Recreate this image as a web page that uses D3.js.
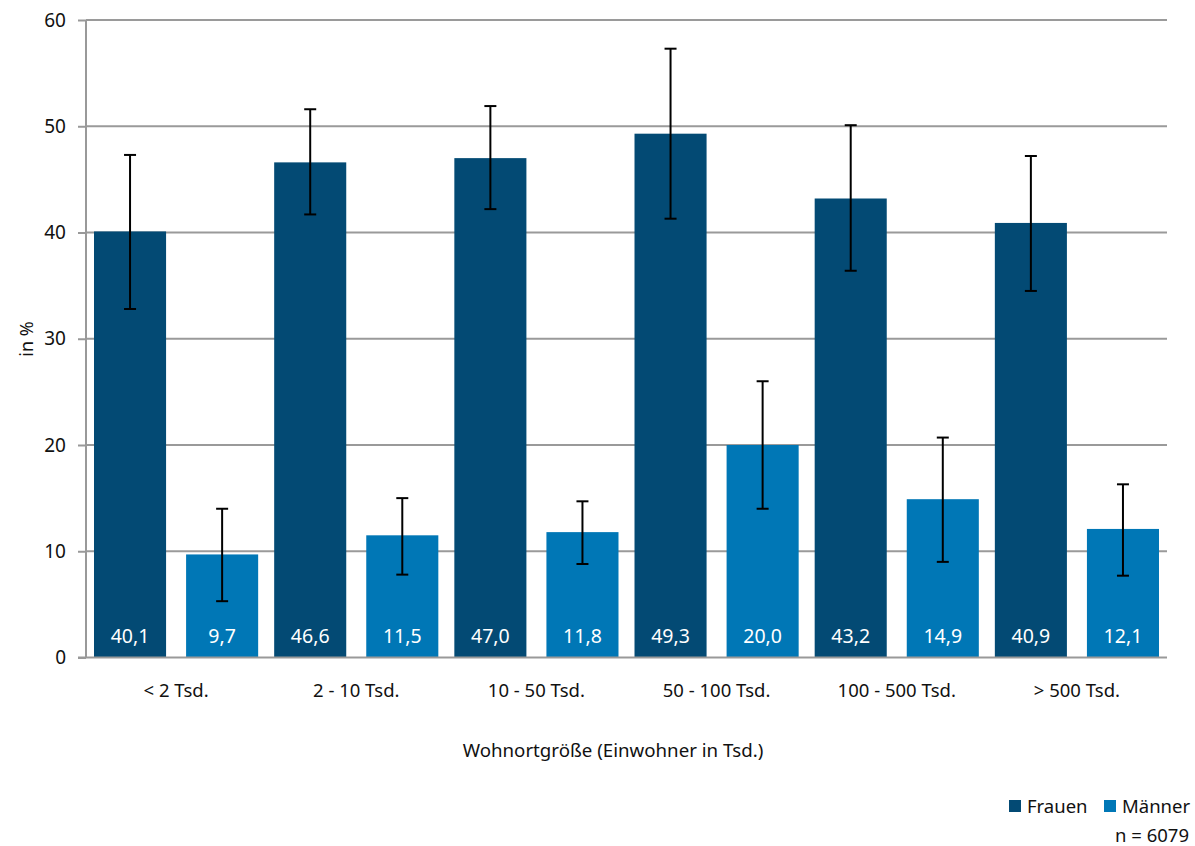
<!DOCTYPE html>
<html>
<head>
<meta charset="utf-8">
<script src="https://cdn.jsdelivr.net/npm/d3@7"></script>
<style>
  body { margin: 0; background: #fff; }
  svg { font-family: "Noto Sans", "Open Sans", sans-serif; }
</style>
</head>
<body>
<div id="chart"></div>
<script>
const categories = ["< 2 Tsd.", "2 - 10 Tsd.", "10 - 50 Tsd.", "50 - 100 Tsd.", "100 - 500 Tsd.", "> 500 Tsd."];
const seriesNames = ["Frauen", "Männer"];
const frauen = [40.1, 46.6, 47.0, 49.3, 43.2, 40.9];
const maenner = [9.7, 11.5, 11.8, 20.0, 14.9, 12.1];
const frauenLow = [32.8, 41.7, 42.2, 41.3, 36.4, 34.5];
const frauenHigh = [47.3, 51.6, 51.9, 57.3, 50.1, 47.2];
const maennerLow = [5.3, 7.8, 8.8, 14.0, 9.0, 7.7];
const maennerHigh = [14.0, 15.0, 14.7, 26.0, 20.7, 16.3];
const yTicks = [0, 10, 20, 30, 40, 50, 60];

const colors = { "Frauen": "#034a74", "Männer": "#0077b6" };

const W = 1195, H = 846;
const plotLeft = 86, plotRight = 1167, plotTop = 20, plotBottom = 657.5;

const svg = d3.select("#chart").append("svg")
  .attr("width", W)
  .attr("height", H);

const x = d3.scaleBand().domain(categories).range([plotLeft, plotRight]);
const xi = d3.scaleBand().domain(seriesNames).range([0, x.bandwidth()])
  .paddingInner(20 / 92).paddingOuter(8 / 92);
const y = d3.scaleLinear().domain([0, 60]).range([plotBottom, plotTop]);

// y ticks
const yAxis = svg.append("g")
  .attr("transform", `translate(${plotLeft},0)`)
  .call(d3.axisLeft(y).tickValues(yTicks).tickSize(8).tickPadding(12));
yAxis.select(".domain").remove();
yAxis.selectAll(".tick line").attr("stroke", "#999").attr("stroke-width", 2);
yAxis.selectAll(".tick text")
  .attr("font-size", 19)
  .attr("fill", "#111")
  .attr("font-family", "'Noto Sans', sans-serif");

// gridlines
svg.append("g").selectAll("line")
  .data(yTicks.filter(d => d > 0))
  .join("line")
  .attr("x1", plotLeft).attr("x2", plotRight)
  .attr("y1", d => y(d)).attr("y2", d => y(d))
  .attr("stroke", "#9a9a9a").attr("stroke-width", 2);

const rows = categories.map((c, i) => [
  { cat: c, s: "Frauen", v: frauen[i], lo: frauenLow[i], hi: frauenHigh[i] },
  { cat: c, s: "Männer", v: maenner[i], lo: maennerLow[i], hi: maennerHigh[i] }
]).flat();

// bars
svg.append("g").selectAll("rect")
  .data(rows)
  .join("rect")
  .attr("x", d => x(d.cat) + xi(d.s))
  .attr("y", d => y(d.v))
  .attr("width", xi.bandwidth())
  .attr("height", d => y(0) - y(d.v))
  .attr("fill", d => colors[d.s]);

// value labels
svg.append("g").selectAll("text")
  .data(rows)
  .join("text")
  .attr("x", d => x(d.cat) + xi(d.s) + xi.bandwidth() / 2)
  .attr("y", 643)
  .attr("text-anchor", "middle")
  .attr("font-size", 19.5)
  .attr("fill", "#fff")
  .text(d => d.v.toFixed(1).replace(".", ","));

// error bars
const err = svg.append("g").attr("stroke", "#000").attr("stroke-width", 2);
rows.forEach(d => {
  const cx = x(d.cat) + xi(d.s) + xi.bandwidth() / 2;
  err.append("line").attr("x1", cx).attr("x2", cx).attr("y1", y(d.hi)).attr("y2", y(d.lo));
  err.append("line").attr("x1", cx - 6).attr("x2", cx + 6).attr("y1", y(d.hi)).attr("y2", y(d.hi));
  err.append("line").attr("x1", cx - 6).attr("x2", cx + 6).attr("y1", y(d.lo)).attr("y2", y(d.lo));
});

// axis lines
svg.append("line")
  .attr("x1", plotLeft).attr("x2", plotLeft).attr("y1", plotTop).attr("y2", plotBottom)
  .attr("stroke", "#999").attr("stroke-width", 2);
svg.append("line")
  .attr("x1", plotLeft - 8).attr("x2", plotRight).attr("y1", plotBottom).attr("y2", plotBottom)
  .attr("stroke", "#999").attr("stroke-width", 2);

// category labels
svg.append("g").selectAll("text")
  .data(categories)
  .join("text")
  .attr("x", d => x(d) + x.bandwidth() / 2)
  .attr("y", 697)
  .attr("text-anchor", "middle")
  .attr("font-size", 18.5)
  .attr("fill", "#111")
  .text(d => d);

// axis titles
svg.append("text")
  .attr("x", 613).attr("y", 757)
  .attr("text-anchor", "middle")
  .attr("font-size", 18.7)
  .attr("fill", "#111")
  .text("Wohnortgröße (Einwohner in Tsd.)");

svg.append("text")
  .attr("transform", "translate(33,339) rotate(-90)")
  .attr("text-anchor", "middle")
  .attr("font-size", 18)
  .attr("fill", "#111")
  .text("in %");

// legend
const legend = [
  { name: "Frauen", x: 1009 },
  { name: "Männer", x: 1104 }
];
legend.forEach(l => {
  svg.append("rect").attr("x", l.x).attr("y", 800).attr("width", 12).attr("height", 12)
    .attr("fill", colors[l.name]);
  svg.append("text").attr("x", l.x + 18).attr("y", 813)
    .attr("font-size", 18.5).attr("fill", "#111").text(l.name);
});
svg.append("text")
  .attr("x", 1189).attr("y", 842)
  .attr("text-anchor", "end")
  .attr("font-size", 18.5)
  .attr("fill", "#111")
  .text("n = 6079");
</script>
</body>
</html>
